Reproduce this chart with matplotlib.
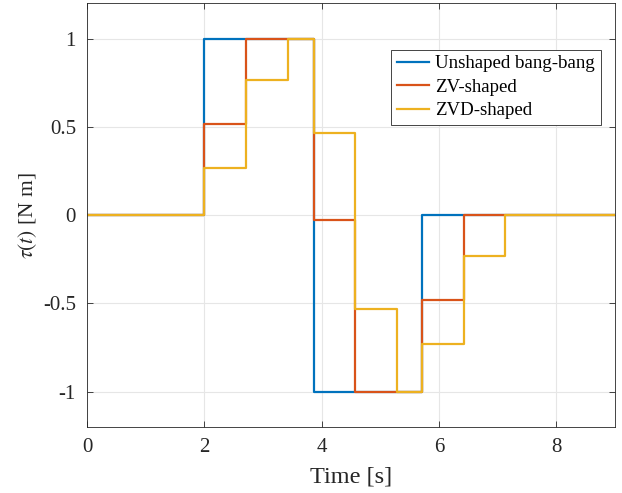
import matplotlib
matplotlib.use("Agg")
import matplotlib.pyplot as plt

plt.rcParams['font.family'] = ['Liberation Serif', 'DejaVu Serif']
plt.rcParams['mathtext.fontset'] = 'stix'

# Step switching times and levels (value holds from each time to the next)
t_unshaped = [0, 2.0, 3.86, 5.71, 9.0]
u_unshaped = [0, 1.0, -1.0, 0, 0]

t_zv = [0, 2.0, 2.71, 3.86, 4.57, 5.71, 6.42, 9.0]
u_zv = [0, 0.515, 1.0, -0.028, -1.0, -0.48, 0, 0]

t_zvd = [0, 2.0, 2.71, 3.42, 3.86, 4.57, 5.28, 5.71, 6.42, 7.13, 9.0]
u_zvd = [0, 0.27, 0.765, 1.0, 0.468, -0.533, -1.0, -0.73, -0.234, 0, 0]

labels = ['Unshaped bang-bang', 'ZV-shaped', 'ZVD-shaped']
colors = ['#0072BD', '#D95319', '#EDB120']

xticks = [0, 2, 4, 6, 8]
yticks = [-1, -0.5, 0, 0.5, 1]
yticklabels = ['-1', '-0.5', '0', '0.5', '1']

fig = plt.figure(figsize=(6.22, 4.93), dpi=100)
ax = fig.add_axes([0.140, 0.134, 0.849, 0.859])

for t, u, lab, c in zip([t_unshaped, t_zv, t_zvd], [u_unshaped, u_zv, u_zvd], labels, colors):
    ax.step(t, u, where='post', color=c, lw=1.6, label=lab)

ax.set_xlim(0, 9)
ax.set_ylim(-1.2, 1.2)
ax.set_xticks(xticks)
ax.set_yticks(yticks)
ax.set_yticklabels(yticklabels)
ax.grid(True, color='#e6e6e6', lw=0.8)
ax.set_axisbelow(True)
for s in ax.spines.values():
    s.set_color('#262626')
    s.set_linewidth(0.6)
ax.tick_params(direction='in', top=True, right=True, labelsize=15, colors='#262626',
               length=4, width=0.6, pad=8)
ax.set_xlabel('Time [s]', fontsize=17.5, color='#262626', labelpad=7)
ax.set_ylabel(r'$\tau(t)$ [N m]', fontsize=15.5, color='#262626', labelpad=3)

leg = ax.legend(loc='upper right', bbox_to_anchor=(0.973, 0.891), fontsize=13.6, frameon=True,
                fancybox=False, edgecolor='#262626', framealpha=1, handlelength=1.7,
                borderpad=0.3, labelspacing=0.33, handletextpad=0.35, borderaxespad=0)
leg.get_frame().set_linewidth(0.6)

fig.savefig('out.png', dpi=100)
